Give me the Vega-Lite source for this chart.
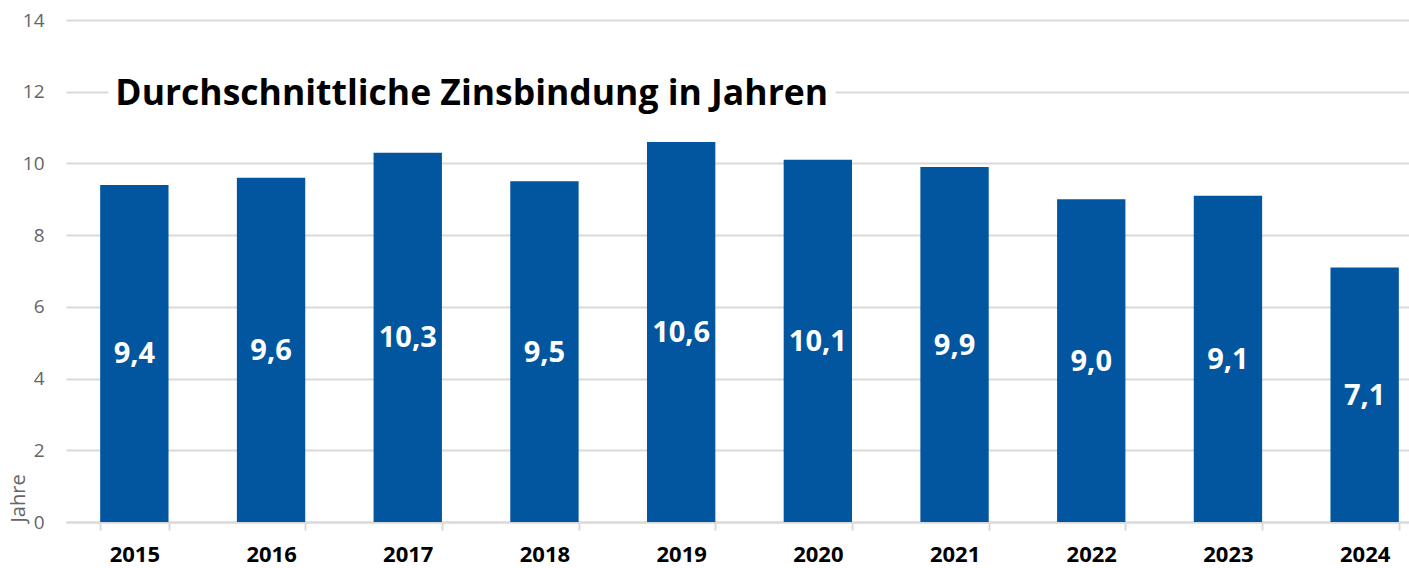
{
  "$schema": "https://vega.github.io/schema/vega-lite/v6.json",
  "width": 1343,
  "height": 502,
  "autosize": {"type": "none"},
  "padding": {"left": 66, "top": 20, "right": 0, "bottom": 46},
  "background": "white",
  "config": {
    "view": {"stroke": null},
    "font": "Open Sans",
    "axis": {"labelFont": "Open Sans", "titleFont": "Open Sans"}
  },
  "datasets": {
    "zins": [
      {"Jahr": "2015", "Wert": 9.4, "Label": "9,4"},
      {"Jahr": "2016", "Wert": 9.6, "Label": "9,6"},
      {"Jahr": "2017", "Wert": 10.3, "Label": "10,3"},
      {"Jahr": "2018", "Wert": 9.5, "Label": "9,5"},
      {"Jahr": "2019", "Wert": 10.6, "Label": "10,6"},
      {"Jahr": "2020", "Wert": 10.1, "Label": "10,1"},
      {"Jahr": "2021", "Wert": 9.9, "Label": "9,9"},
      {"Jahr": "2022", "Wert": 9.0, "Label": "9,0"},
      {"Jahr": "2023", "Wert": 9.1, "Label": "9,1"},
      {"Jahr": "2024", "Wert": 7.1, "Label": "7,1"}
    ],
    "titel": [
      {"Jahr": "2015", "Wert": 12, "Text": "Durchschnittliche Zinsbindung in Jahren"}
    ]
  },
  "resolve": {"scale": {"y": "independent"}},
  "layer": [
    {
      "data": {"name": "zins"},
      "mark": {"type": "bar", "color": "#01569f"},
      "encoding": {
        "x": {
          "field": "Jahr",
          "type": "ordinal",
          "scale": {"range": [0, 1367], "paddingInner": 0.5, "paddingOuter": 0.25},
          "axis": {
            "title": null,
            "labelAngle": 0,
            "labelFontWeight": "bold",
            "labelFontSize": 22,
            "labelColor": "#000000",
            "labelPadding": 14,
            "domainColor": "#d9d9d9",
            "domainWidth": 2,
            "tickColor": "#d9d9d9",
            "tickWidth": 2,
            "tickSize": 8,
            "tickBand": "extent",
            "grid": false
          }
        },
        "y": {
          "field": "Wert",
          "type": "quantitative",
          "scale": {"domain": [0, 14], "nice": false, "zero": true},
          "axis": {
            "title": "Jahre",
            "titleFontWeight": "normal",
            "titleFontSize": 20,
            "titleColor": "#666666",
            "titleAnchor": "start",
            "titlePadding": -6,
            "values": [0, 2, 4, 6, 8, 10, 12, 14],
            "labelFontSize": 19,
            "labelColor": "#666666",
            "labelPadding": 22,
            "ticks": false,
            "domain": false,
            "grid": true,
            "gridColor": "#d9d9d9",
            "gridWidth": 2
          }
        }
      }
    },
    {
      "data": {"name": "zins"},
      "mark": {"type": "text", "color": "white", "fontWeight": "bold", "fontSize": 29, "baseline": "middle", "align": "center", "dy": 1},
      "encoding": {
        "x": {"field": "Jahr", "type": "ordinal"},
        "y": {"field": "Wert", "type": "quantitative", "scale": {"domain": [0, 28], "nice": false}, "axis": null},
        "text": {"field": "Label", "type": "nominal"}
      }
    },
    {
      "data": {"name": "titel"},
      "mark": {"type": "text", "color": "white", "stroke": "white", "strokeWidth": 20, "strokeJoin": "round", "fontWeight": "bold", "fontSize": 35.5, "baseline": "middle", "align": "left", "dx": -19, "dy": 2},
      "encoding": {
        "x": {"field": "Jahr", "type": "ordinal"},
        "y": {"field": "Wert", "type": "quantitative", "scale": {"domain": [0, 14], "nice": false}, "axis": null},
        "text": {"field": "Text", "type": "nominal"}
      }
    },
    {
      "data": {"name": "titel"},
      "mark": {"type": "text", "color": "#000000", "fontWeight": "bold", "fontSize": 35.5, "baseline": "middle", "align": "left", "dx": -19, "dy": 2},
      "encoding": {
        "x": {"field": "Jahr", "type": "ordinal"},
        "y": {"field": "Wert", "type": "quantitative", "scale": {"domain": [0, 14], "nice": false}, "axis": null},
        "text": {"field": "Text", "type": "nominal"}
      }
    }
  ]
}
